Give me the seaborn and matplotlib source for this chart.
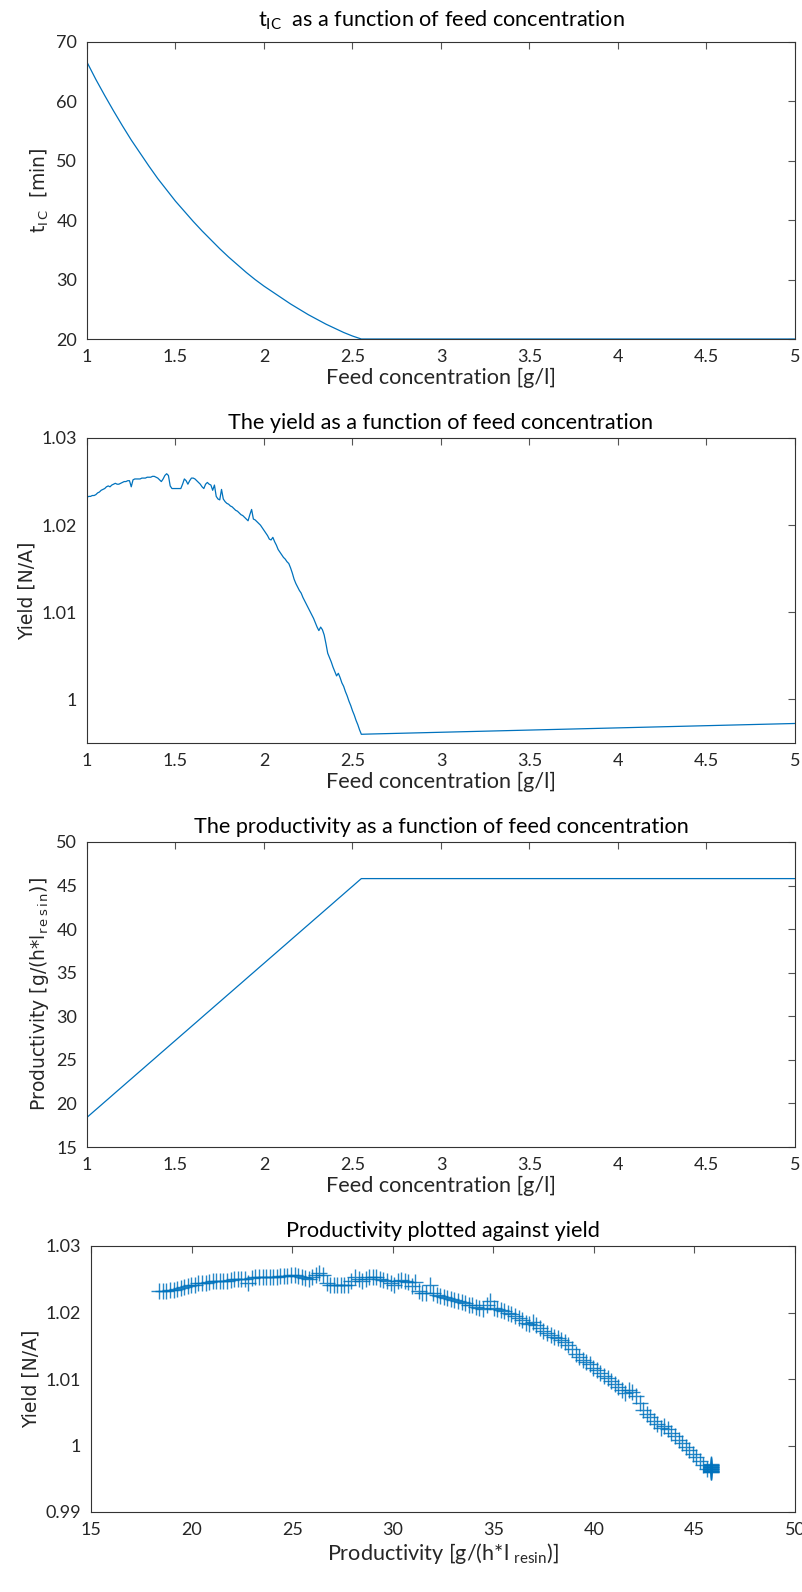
import numpy as np
import pandas as pd
import matplotlib
matplotlib.use("Agg")
import matplotlib.pyplot as plt
import seaborn as sns

# ---------------- data ----------------
tic_conc = [1.00, 1.05, 1.10, 1.15, 1.20, 1.25, 1.30, 1.35, 1.40, 1.45, 1.50,
            1.55, 1.60, 1.65, 1.70, 1.75, 1.80, 1.85, 1.90, 1.95, 2.00, 2.05,
            2.10, 2.15, 2.20, 2.25, 2.30, 2.35, 2.40, 2.45, 2.50, 2.55,
            3.00, 3.50, 4.00, 4.50, 5.00]
tic_vals = [66.6, 63.7, 61.0, 58.4, 55.9, 53.5, 51.3, 49.1, 47.0, 45.1, 43.2,
            41.5, 39.8, 38.2, 36.7, 35.2, 33.8, 32.5, 31.2, 30.0, 28.9, 27.9,
            26.9, 25.9, 25.0, 24.1, 23.3, 22.5, 21.8, 21.1, 20.5, 20.0,
            20.0, 20.0, 20.0, 20.0, 20.0]

feed_conc = [
    1.00, 1.01, 1.02, 1.03, 1.04, 1.05, 1.06, 1.07, 1.08, 1.09,
    1.10, 1.11, 1.12, 1.13, 1.14, 1.15, 1.16, 1.17, 1.18, 1.19,
    1.20, 1.21, 1.22, 1.23, 1.24, 1.25, 1.26, 1.27, 1.28, 1.29,
    1.30, 1.31, 1.32, 1.33, 1.34, 1.35, 1.36, 1.37, 1.38, 1.39,
    1.40, 1.41, 1.42, 1.43, 1.44, 1.45, 1.46, 1.47, 1.48, 1.49,
    1.50, 1.51, 1.52, 1.53, 1.54, 1.55, 1.56, 1.57, 1.58, 1.59,
    1.60, 1.61, 1.62, 1.63, 1.64, 1.65, 1.66, 1.67, 1.68, 1.69,
    1.70, 1.71, 1.72, 1.73, 1.74, 1.75, 1.76, 1.77, 1.78, 1.79,
    1.80, 1.81, 1.82, 1.83, 1.84, 1.85, 1.86, 1.87, 1.88, 1.89,
    1.90, 1.91, 1.92, 1.93, 1.94, 1.95, 1.96, 1.97, 1.98, 1.99,
    2.00, 2.01, 2.02, 2.03, 2.04, 2.05, 2.06, 2.07, 2.08, 2.09,
    2.10, 2.11, 2.12, 2.13, 2.14, 2.15, 2.16, 2.17, 2.18, 2.19,
    2.20, 2.21, 2.22, 2.23, 2.24, 2.25, 2.26, 2.27, 2.28, 2.29,
    2.30, 2.31, 2.32, 2.33, 2.34, 2.35, 2.36, 2.37, 2.38, 2.39,
    2.40, 2.41, 2.42, 2.43, 2.44, 2.45, 2.46, 2.47, 2.48, 2.49,
    2.50, 2.51, 2.52, 2.53, 2.54, 2.55,
    2.60, 2.80, 3.00, 3.20, 3.40, 3.60, 3.80, 4.00, 4.20, 4.40, 4.60, 4.80, 5.00]

yield_vals = [
    1.0232, 1.0233, 1.0233, 1.0234, 1.0234, 1.0235, 1.0237, 1.0238, 1.0240, 1.0241,
    1.0242, 1.0244, 1.0245, 1.0244, 1.0246, 1.0247, 1.0248, 1.0247, 1.0247, 1.0248,
    1.0249, 1.0250, 1.0250, 1.0251, 1.0251, 1.0244, 1.0252, 1.0253, 1.0253, 1.0253,
    1.0253, 1.0254, 1.0254, 1.0254, 1.0255, 1.0255, 1.0255, 1.0256, 1.0256, 1.0255,
    1.0254, 1.0252, 1.0250, 1.0253, 1.0257, 1.0259, 1.0257, 1.0245, 1.0242, 1.0242,
    1.0242, 1.0242, 1.0242, 1.0242, 1.0247, 1.0253, 1.0251, 1.0247, 1.0251, 1.0254,
    1.0254, 1.0253, 1.0251, 1.0249, 1.0247, 1.0244, 1.0242, 1.0247, 1.0249, 1.0247,
    1.0246, 1.0240, 1.0246, 1.0233, 1.0230, 1.0229, 1.0241, 1.0230, 1.0227, 1.0225,
    1.0224, 1.0222, 1.0221, 1.0219, 1.0217, 1.0216, 1.0214, 1.0212, 1.0211, 1.0209,
    1.0207, 1.0205, 1.0212, 1.0218, 1.0207, 1.0206, 1.0204, 1.0202, 1.0200, 1.0197,
    1.0194, 1.0191, 1.0188, 1.0184, 1.0183, 1.0186, 1.0181, 1.0177, 1.0172, 1.0169,
    1.0166, 1.0163, 1.0161, 1.0158, 1.0156, 1.0151, 1.0145, 1.0138, 1.0133, 1.0129,
    1.0125, 1.0122, 1.0117, 1.0113, 1.0109, 1.0105, 1.0101, 1.0097, 1.0093, 1.0088,
    1.0083, 1.0079, 1.0083, 1.0080, 1.0074, 1.0064, 1.0053, 1.0048, 1.0043, 1.0037,
    1.0032, 1.0027, 1.0030, 1.0025, 1.0019, 1.0015, 1.0009, 1.0004, 0.9998, 0.9993,
    0.9987, 0.9982, 0.9976, 0.9971, 0.9965, 0.9960,
    0.99603, 0.99613, 0.99623, 0.99633, 0.99642, 0.99652, 0.99662, 0.99672,
    0.99682, 0.99692, 0.99702, 0.99713, 0.99724]

productivity_vals = [
    18.40, 18.58, 18.75, 18.93, 19.11, 19.28, 19.46, 19.64, 19.81, 19.99,
    20.17, 20.34, 20.52, 20.70, 20.88, 21.05, 21.23, 21.41, 21.58, 21.76,
    21.94, 22.11, 22.29, 22.47, 22.64, 22.82, 23.00, 23.17, 23.35, 23.53,
    23.70, 23.88, 24.06, 24.23, 24.41, 24.59, 24.76, 24.94, 25.12, 25.30,
    25.47, 25.65, 25.83, 26.00, 26.18, 26.36, 26.53, 26.71, 26.89, 27.06,
    27.24, 27.42, 27.59, 27.77, 27.95, 28.12, 28.30, 28.48, 28.65, 28.83,
    29.01, 29.18, 29.36, 29.54, 29.72, 29.89, 30.07, 30.25, 30.42, 30.60,
    30.78, 30.95, 31.13, 31.31, 31.48, 31.66, 31.84, 32.01, 32.19, 32.37,
    32.54, 32.72, 32.90, 33.07, 33.25, 33.43, 33.60, 33.78, 33.96, 34.14,
    34.31, 34.49, 34.67, 34.84, 35.02, 35.20, 35.37, 35.55, 35.73, 35.90,
    36.08, 36.26, 36.43, 36.61, 36.79, 36.96, 37.14, 37.32, 37.49, 37.67,
    37.85, 38.02, 38.20, 38.38, 38.56, 38.73, 38.91, 39.09, 39.26, 39.44,
    39.62, 39.79, 39.97, 40.15, 40.32, 40.50, 40.68, 40.85, 41.03, 41.21,
    41.38, 41.56, 41.74, 41.91, 42.09, 42.27, 42.44, 42.62, 42.80, 42.98,
    43.15, 43.33, 43.51, 43.68, 43.86, 44.04, 44.21, 44.39, 44.57, 44.74,
    44.92, 45.10, 45.27, 45.45, 45.63, 45.80,
    45.80, 45.80, 45.80, 45.80, 45.80, 45.80, 45.80, 45.80,
    45.80, 45.80, 45.80, 45.80, 45.80]

conc_ticks = [1, 1.5, 2, 2.5, 3, 3.5, 4, 4.5, 5]
conc_ticklabels = ["1", "1.5", "2", "2.5", "3", "3.5", "4", "4.5", "5"]
tic_ticks = [20, 30, 40, 50, 60, 70]
yield_ticks2 = [1.0, 1.01, 1.02, 1.03]
yield_ticklabels2 = ["1", "1.01", "1.02", "1.03"]
prod_ticks = [15, 20, 25, 30, 35, 40, 45, 50]
yield_ticks4 = [0.99, 1.0, 1.01, 1.02, 1.03]
yield_ticklabels4 = ["0.99", "1", "1.01", "1.02", "1.03"]

# ---------------- style ----------------
sns.set_style("white")
plt.rcParams["font.family"] = ["Lato", "DejaVu Sans"]
plt.rcParams["mathtext.default"] = "regular"

BLUE = "#0072BD"
AXC = "#262626"
TICK_FS = 13
LAB_FS = 15.6
TITLE_FS = 15.6
YLAB_FONT = ["DejaVu Sans"]
YLAB_FS = 13.5

fig = plt.figure(figsize=(8.03, 15.92), dpi=100)

def style(ax):
    for s in ax.spines.values():
        s.set_color("#333333")
        s.set_linewidth(0.8)
        s.set_visible(True)
    ax.tick_params(direction="in", top=True, right=True, length=5,
                   width=0.8, color="#555555", labelsize=TICK_FS,
                   labelcolor=AXC)
    ax.tick_params(axis="x", pad=7)
    ax.tick_params(axis="y", pad=7)
    ax.set_facecolor("white")

L, W = 87 / 803, (795 - 87) / 803
ax1 = fig.add_axes([L, 1 - 339 / 1592, W, 297 / 1592])
ax2 = fig.add_axes([L, 1 - 743 / 1592, W, 305 / 1592])
ax3 = fig.add_axes([L, 1 - 1147 / 1592, W, 305 / 1592])
ax4 = fig.add_axes([91 / 803, 1 - 1512 / 1592, (795 - 91) / 803, 266 / 1592])

# Plot 1
sns.lineplot(x=tic_conc, y=tic_vals, ax=ax1, color=BLUE, linewidth=0.9,
             sort=False, estimator=None)
ax1.set_xlim(1, 5)
ax1.set_ylim(20, 70)
ax1.set_xticks(conc_ticks, conc_ticklabels)
ax1.set_yticks(tic_ticks)
ax1.set_title(r"t$_{IC}$  as a function of feed concentration", fontsize=TITLE_FS,
              color="black", pad=11)
ax1.set_xlabel("Feed concentration [g/l]", fontsize=LAB_FS, color=AXC, labelpad=2)
ax1.set_ylabel(r"t$_{I\,C}$  [min]", fontsize=YLAB_FS, family=YLAB_FONT, color=AXC)

# Plot 2
sns.lineplot(x=feed_conc, y=yield_vals, ax=ax2, color=BLUE, linewidth=0.9,
             sort=False, estimator=None)
ax2.set_xlim(1, 5)
ax2.set_ylim(0.995, 1.03)
ax2.set_xticks(conc_ticks, conc_ticklabels)
ax2.set_yticks(yield_ticks2, yield_ticklabels2)
ax2.set_title("The yield as a function of feed concentration", fontsize=TITLE_FS,
              color="black", pad=6.5)
ax2.set_xlabel("Feed concentration [g/l]", fontsize=LAB_FS, color=AXC, labelpad=2)
ax2.set_ylabel("Yield [N/A]", fontsize=YLAB_FS, family=YLAB_FONT, color=AXC)

# Plot 3
sns.lineplot(x=feed_conc, y=productivity_vals, ax=ax3, color=BLUE, linewidth=0.9,
             sort=False, estimator=None)
ax3.set_xlim(1, 5)
ax3.set_ylim(15, 50)
ax3.set_xticks(conc_ticks, conc_ticklabels)
ax3.set_yticks([15, 20, 25, 30, 35, 40, 45, 50])
ax3.set_title("The productivity as a function of feed concentration",
              fontsize=TITLE_FS, color="black", pad=6.5)
ax3.set_xlabel("Feed concentration [g/l]", fontsize=LAB_FS, color=AXC, labelpad=2)
ax3.set_ylabel(r"Productivity [g/(h*l$_{r\,e\,s\,i\,n}$)]", fontsize=YLAB_FS,
               family=YLAB_FONT, color=AXC)

# Plot 4
sns.scatterplot(x=productivity_vals, y=yield_vals, ax=ax4, color=BLUE,
                marker="+", s=120, linewidth=1.0, alpha=0.85)
ax4.set_xlim(15, 50)
ax4.set_ylim(0.99, 1.03)
ax4.set_xticks(prod_ticks)
ax4.set_yticks(yield_ticks4, yield_ticklabels4)
ax4.set_title("Productivity plotted against yield", fontsize=TITLE_FS,
              color="black", pad=6.5)
ax4.set_xlabel(r"Productivity [g/(h*l $_{resin}$)]", fontsize=LAB_FS, color=AXC,
               labelpad=2)
ax4.set_ylabel("Yield [N/A]", fontsize=YLAB_FS, family=YLAB_FONT, color=AXC)

for ax in (ax1, ax2, ax3, ax4):
    style(ax)

fig.savefig("out.png", dpi=100, facecolor="white")
